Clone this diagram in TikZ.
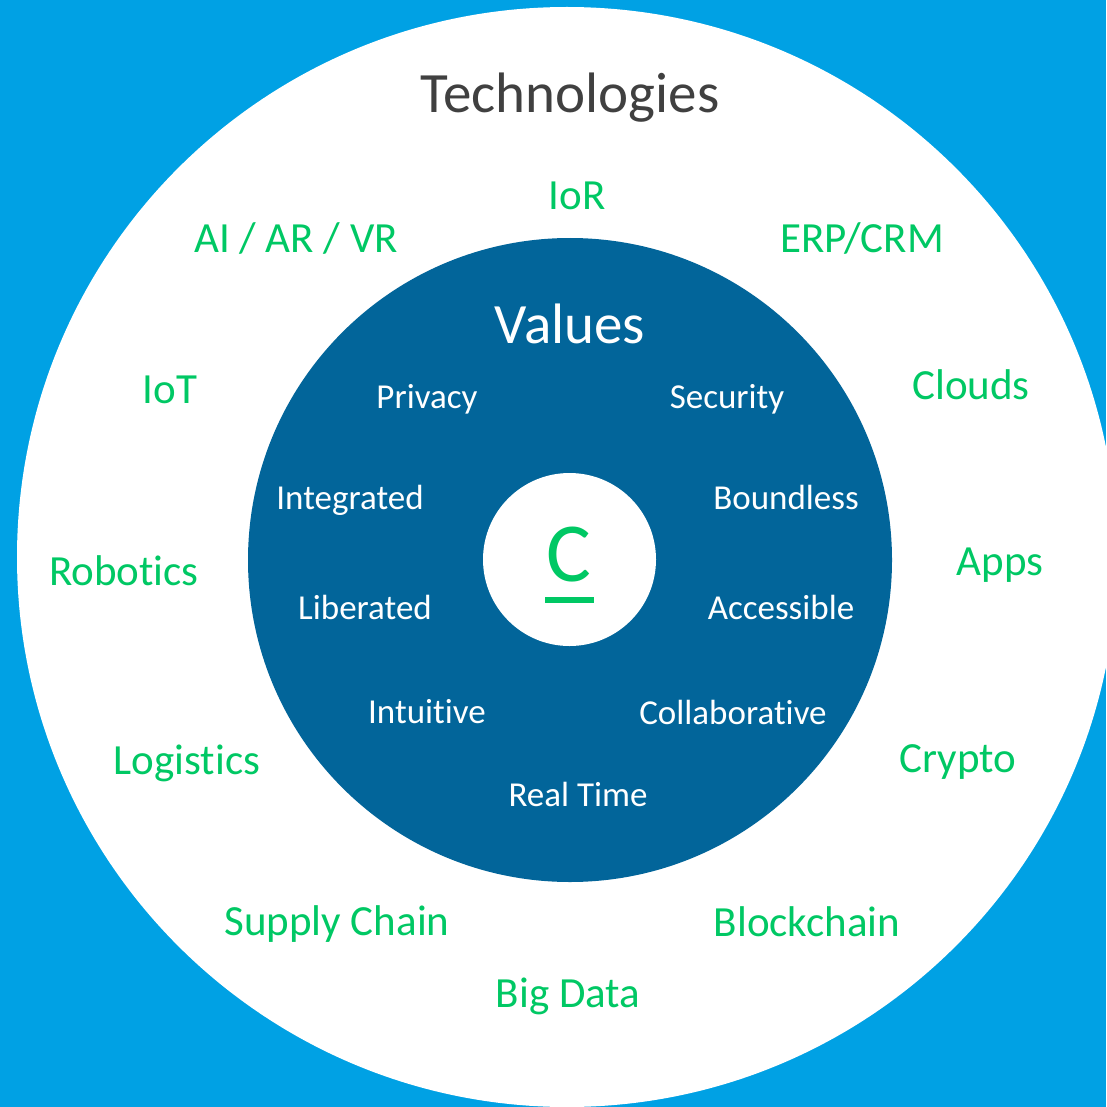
\documentclass[tikz,border=0pt]{standalone}
\usepackage{fontspec}
\setmainfont[Ligatures={NoCommon,NoContextual},RawFeature={-liga,-clig,-calt}]{Carlito}
\definecolor{bgblue}{HTML}{00A1E4}
\definecolor{darkblue}{HTML}{02659A}
\definecolor{techgreen}{HTML}{00C864}
\definecolor{titlegray}{HTML}{404040}
\newcommand{\nolig}{\kern0pt}
\tikzset{
  tech/.style={anchor=base, inner sep=0pt, text=techgreen, font=\fontsize{43}{50}\selectfont},
  val/.style={anchor=base, inner sep=0pt, text=white, font=\fontsize{35}{42}\selectfont},
}
\begin{document}
\begin{tikzpicture}[x=1pt,y=-1pt]
\useasboundingbox (0,0) rectangle (1106,1107);
\fill[bgblue] (0,0) rectangle (1106,1107);
\fill[white] (567,557) circle[radius=550];
\fill[darkblue] (570,560) circle[radius=322];
\fill[white] (569.5,559.5) circle[radius=86.5];

\node[anchor=base, inner sep=0pt, text=titlegray, font=\fontsize{57}{66}\selectfont] (title) at (570,113) {Technologies};
\node[anchor=base, inner sep=0pt, text=white, font=\fontsize{57}{66}\selectfont] (values) at (570,343) {Values};

\node[tech] (ior) at (577,210) {IoR};
\node[tech] (ai) at (296,252) {AI / AR / VR};
\node[tech] (erp) at (862,252) {ERP/CRM};
\node[tech] (iot) at (170,403) {IoT};
\node[tech] (clouds) at (971,399) {Clouds};
\node[tech] (robotics) at (124,585) {Robot\nolig ics};
\node[tech] (apps) at (1000,575) {Apps};
\node[tech] (logistics) at (187,774) {Logist\nolig ics};
\node[tech] (crypto) at (958,772) {Crypto};
\node[tech] (supply) at (337,935) {Supply Chain};
\node[tech] (blockchain) at (807,936) {Blockchain};
\node[tech] (bigdata) at (568,1007) {Big Data};

\node[val] (privacy) at (427,408) {Privacy};
\node[val] (security) at (727,408) {Security};
\node[val] (integrated) at (350,509) {Integrated};
\node[val] (boundless) at (786,509) {Boundless};
\node[val] (liberated) at (365,619) {Liberated};
\node[val] (accessible) at (781,619) {Accessible};
\node[val] (intuitive) at (427,723) {Int\nolig uit\nolig ive};
\node[val] (collab) at (733,724) {Collaborat\nolig ive};
\node[val] (realtime) at (578,806) {Real Time};

\node[anchor=base, inner sep=0pt, text=techgreen, font=\fontsize{84}{100}\selectfont] (c) at (569,581) {C};
\fill[techgreen] (545,597) rectangle (594,603);
\end{tikzpicture}
\end{document}
